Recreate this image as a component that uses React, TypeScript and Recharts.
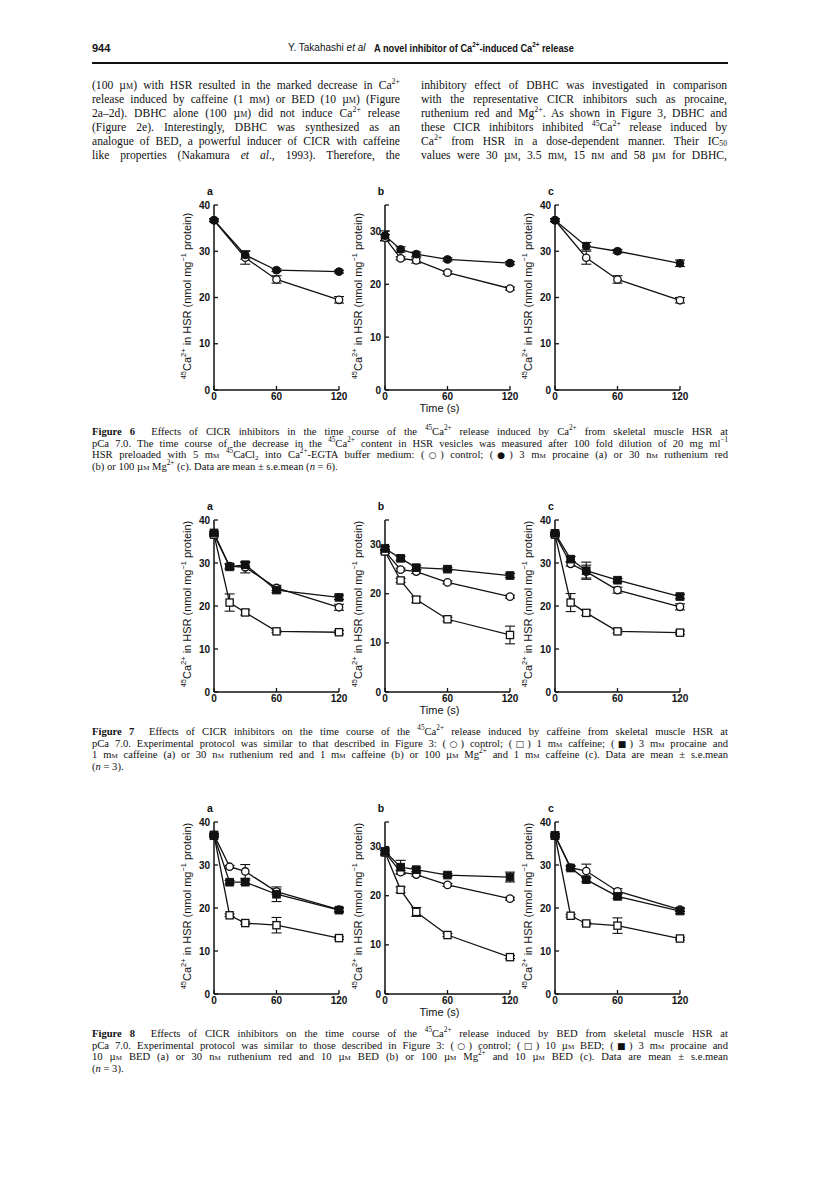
import React from "react";
import { LineChart, Line, XAxis, YAxis, ErrorBar } from "recharts";

// ---- data ----
const TIME_4 = [0, 30, 60, 120];
const TIME_5 = [0, 15, 30, 60, 120];
const X_TICKS = [0, 60, 120];
const Y_TICKS_40 = [0, 10, 20, 30, 40];
const Y_TICKS_35 = [0, 10, 20, 30, 35];
const PANEL_LETTERS = ["a", "b", "c"];
const PANEL_YMAX = [40, 35, 40];

// Figure 6: (O) control, (filled circle) procaine / ruthenium red / Mg2+
const FIG6_TIMES = [TIME_4, TIME_5, TIME_4];
const FIG6_CONTROL = [
  [36.7, 28.6, 23.9, 19.5],
  [28.8, 24.9, 24.5, 22.2, 19.2],
  [36.7, 28.6, 23.9, 19.4],
];
const FIG6_CONTROL_SEM = [
  [0.3, 1.4, 0.8, 0.7],
  [0.6, 0.3, 0.5, 0.3, 0.3],
  [0.3, 1.4, 0.8, 0.6],
];
const FIG6_INHIB = [
  [36.7, 29.2, 25.9, 25.6],
  [29.2, 26.6, 25.7, 24.7, 24.0],
  [36.7, 31.1, 30.0, 27.4],
];
const FIG6_INHIB_SEM = [
  [0.3, 0.9, 0.3, 0.3],
  [0.9, 0.5, 0.4, 0.3, 0.3],
  [0.3, 0.8, 0.4, 0.7],
];

// Figure 7: (O) control, (open square) caffeine, (filled square) inhibitor + caffeine
const FIG7_TIMES = [TIME_5, TIME_5, TIME_5];
const FIG7_CONTROL = [
  [36.6, 29.3, 29.0, 24.2, 19.7],
  [28.6, 24.9, 24.5, 22.3, 19.4],
  [36.6, 29.8, 28.0, 23.7, 19.8],
];
const FIG7_CONTROL_SEM = [
  [0.3, 0.5, 1.3, 0.6, 0.7],
  [0.4, 0.3, 0.4, 0.3, 0.3],
  [0.3, 0.5, 1.5, 0.7, 0.7],
];
const FIG7_DRUG = [
  [36.6, 20.8, 18.5, 14.1, 13.9],
  [28.6, 22.7, 18.8, 14.8, 11.6],
  [36.6, 20.8, 18.4, 14.1, 13.8],
];
const FIG7_DRUG_SEM = [
  [0.3, 2.0, 0.6, 0.3, 0.4],
  [0.4, 0.4, 0.6, 0.4, 1.8],
  [0.3, 2.1, 0.6, 0.4, 0.4],
];
const FIG7_INHIB = [
  [37.0, 29.1, 29.6, 23.7, 22.0],
  [29.2, 27.2, 25.3, 25.0, 23.7],
  [36.9, 30.9, 28.2, 26.0, 22.2],
];
const FIG7_INHIB_SEM = [
  [0.3, 0.6, 0.5, 0.6, 0.5],
  [0.4, 0.4, 0.4, 0.3, 0.4],
  [0.3, 0.6, 2.0, 0.4, 0.5],
];

// Figure 8: (O) control, (open square) BED, (filled square) inhibitor + BED
const FIG8_TIMES = [TIME_5, TIME_5, TIME_5];
const FIG8_CONTROL = [
  [37.0, 29.6, 28.5, 23.8, 19.6],
  [28.8, 24.8, 24.3, 22.2, 19.4],
  [36.9, 29.4, 28.6, 23.9, 19.6],
];
const FIG8_CONTROL_SEM = [
  [0.3, 0.3, 1.6, 0.6, 0.4],
  [0.4, 0.3, 0.3, 0.3, 0.3],
  [0.3, 0.3, 1.6, 0.6, 0.4],
];
const FIG8_DRUG = [
  [37.0, 18.3, 16.5, 16.0, 13.0],
  [28.8, 21.2, 16.7, 12.0, 7.5],
  [36.9, 18.2, 16.4, 15.9, 12.9],
];
const FIG8_DRUG_SEM = [
  [0.3, 0.3, 0.3, 1.8, 0.3],
  [0.4, 0.6, 0.9, 0.3, 0.3],
  [0.3, 0.3, 0.3, 1.8, 0.3],
];
const FIG8_INHIB = [
  [36.8, 26.0, 26.0, 23.2, 19.5],
  [29.0, 25.8, 25.3, 24.2, 23.8],
  [36.8, 29.3, 26.6, 22.7, 19.3],
];
const FIG8_INHIB_SEM = [
  [0.3, 0.4, 0.5, 1.7, 0.5],
  [0.7, 1.4, 0.4, 0.3, 1.0],
  [0.3, 0.5, 0.5, 0.5, 0.6],
];

// ---- layout ----
const INK = "#111";
const PANEL_X = [214, 385, 555];
const PW = 125;
const ML = 48;
const MT = 8;
const MR = 12;
const XH = 24;
const SANS = "'Liberation Sans', Arial, sans-serif";
const SERIF = "'Liberation Serif', 'Times New Roman', serif";
const AXIS = { stroke: INK, strokeWidth: 1.5 };
const TICK_FONT = { fontFamily: SANS, fontSize: 10, fontWeight: 700, fill: INK };

function XTick(props: any) {
  const { x, y, payload } = props;
  const base = y - 3;
  return (
    <g>
      <line x1={x} x2={x} y1={base} y2={base - 4} stroke={INK} strokeWidth={1.3} />
      <text x={x} y={y} dy="0.72em" textAnchor="middle" {...TICK_FONT}>
        {payload.value}
      </text>
    </g>
  );
}

function YTick(props: any) {
  const { x, y, payload } = props;
  const base = x + 4;
  return (
    <g>
      <line x1={base} x2={base + 4} y1={y} y2={y} stroke={INK} strokeWidth={1.3} />
      {payload.value !== 35 && (
        <text x={x} y={y} dy="0.35em" textAnchor="end" {...TICK_FONT}>
          {payload.value}
        </text>
      )}
    </g>
  );
}

const openCircle = (p: any) =>
  p.cx == null || p.cy == null ? <g key={`oc${p.index}`} /> : (
    <circle key={`oc${p.index}`} cx={p.cx} cy={p.cy} r={3.7} fill="#fff" stroke={INK} strokeWidth={1.3} />
  );
const filledCircle = (p: any) =>
  p.cx == null || p.cy == null ? <g key={`fc${p.index}`} /> : (
    <circle key={`fc${p.index}`} cx={p.cx} cy={p.cy} r={3.9} fill={INK} stroke={INK} strokeWidth={1} />
  );
const openSquare = (p: any) =>
  p.cx == null || p.cy == null ? <g key={`os${p.index}`} /> : (
    <rect key={`os${p.index}`} x={p.cx - 3.6} y={p.cy - 3.6} width={7.2} height={7.2} fill="#fff" stroke={INK} strokeWidth={1.3} />
  );
const filledSquare = (p: any) =>
  p.cx == null || p.cy == null ? <g key={`fs${p.index}`} /> : (
    <rect key={`fs${p.index}`} x={p.cx - 3.8} y={p.cy - 3.8} width={7.6} height={7.6} fill={INK} stroke={INK} strokeWidth={1} />
  );

const Sup = ({ children }: { children: React.ReactNode }) => (
  <span style={{ verticalAlign: "super", fontSize: "0.68em", lineHeight: 0 }}>{children}</span>
);
const Sub = ({ children }: { children: React.ReactNode }) => (
  <span style={{ position: "relative", top: "0.18em", fontSize: "0.66em", lineHeight: 0 }}>{children}</span>
);
const SC = ({ children }: { children: React.ReactNode }) => (
  <span style={{ fontVariant: "small-caps" }}>{children}</span>
);
const Sym = ({ children }: { children: React.ReactNode }) => (
  <span style={{ fontFamily: "'DejaVu Sans', sans-serif", fontSize: "0.85em" }}>{children}</span>
);

function YLabel() {
  return (
    <span>
      <Sup>45</Sup>Ca<Sup>2+</Sup> in HSR (nmol mg<Sup>−1</Sup> protein)
    </span>
  );
}

type PanelProps = {
  x: number;
  top: number;
  ph: number;
  idx: number;
  times: number[];
  control: number[];
  controlSem: number[];
  drug?: number[];
  drugSem?: number[];
  inhib: number[];
  inhibSem: number[];
  inhibDot: (p: any) => React.ReactElement;
};

function Panel({ x, top, ph, idx, times, control, controlSem, drug, drugSem, inhib, inhibSem, inhibDot }: PanelProps) {
  const yMax = PANEL_YMAX[idx];
  const rows = times.map((t, i) => ({
    t,
    control: control[i],
    controlSem: controlSem[i],
    drug: drug ? drug[i] : undefined,
    drugSem: drugSem ? drugSem[i] : undefined,
    inhib: inhib[i],
    inhibSem: inhibSem[i],
  }));
  return (
    <div style={{ position: "absolute", left: x - ML, top: top - MT, width: ML + PW + MR, height: MT + ph + XH }}>
      <LineChart width={ML + PW + MR} height={MT + ph + XH} data={rows} margin={{ top: MT, right: MR, bottom: 0, left: 0 }}>
        <XAxis
          dataKey="t"
          type="number"
          domain={[0, 120]}
          ticks={X_TICKS}
          interval={0}
          height={XH}
          tickSize={0}
          tickMargin={3}
          tick={<XTick />}
          axisLine={AXIS}
        />
        <YAxis
          type="number"
          domain={[0, yMax]}
          ticks={yMax === 40 ? Y_TICKS_40 : Y_TICKS_35}
          interval={0}
          width={ML}
          tickSize={0}
          tickMargin={4}
          tick={<YTick />}
          axisLine={AXIS}
        />
        <Line dataKey="control" stroke={INK} strokeWidth={1.3} dot={openCircle} activeDot={false} isAnimationActive={false}>
          <ErrorBar dataKey="controlSem" width={5} stroke={INK} strokeWidth={1.1} direction="y" />
        </Line>
        {drug && (
          <Line dataKey="drug" stroke={INK} strokeWidth={1.3} dot={openSquare} activeDot={false} isAnimationActive={false}>
            <ErrorBar dataKey="drugSem" width={5} stroke={INK} strokeWidth={1.1} direction="y" />
          </Line>
        )}
        <Line dataKey="inhib" stroke={INK} strokeWidth={1.3} dot={inhibDot} activeDot={false} isAnimationActive={false}>
          <ErrorBar dataKey="inhibSem" width={5} stroke={INK} strokeWidth={1.1} direction="y" />
        </Line>
      </LineChart>
      <div
        style={{
          position: "absolute",
          left: ML - 4,
          top: MT - 20,
          transform: "translateX(-50%)",
          fontFamily: SANS,
          fontWeight: 700,
          fontSize: 10.5,
          color: INK,
        }}
      >
        {PANEL_LETTERS[idx]}
      </div>
      <div
        style={{
          position: "absolute",
          left: ML - 27,
          top: MT + ph / 2 - 2,
          transform: "translate(-50%, -50%) rotate(-90deg)",
          whiteSpace: "nowrap",
          fontFamily: SANS,
          fontSize: 11,
          color: INK,
        }}
      >
        <YLabel />
      </div>
      {idx === 1 && (
        <div
          style={{
            position: "absolute",
            left: ML + PW / 2 - 8,
            top: MT + ph + 12,
            transform: "translateX(-50%)",
            whiteSpace: "nowrap",
            fontFamily: SANS,
            fontSize: 11,
            color: INK,
          }}
        >
          Time (s)
        </div>
      )}
    </div>
  );
}

function Figure({
  top,
  ph,
  times,
  control,
  controlSem,
  drug,
  drugSem,
  inhib,
  inhibSem,
  inhibDot,
}: {
  top: number;
  ph: number;
  times: number[][];
  control: number[][];
  controlSem: number[][];
  drug?: number[][];
  drugSem?: number[][];
  inhib: number[][];
  inhibSem: number[][];
  inhibDot: (p: any) => React.ReactElement;
}) {
  return (
    <>
      {PANEL_X.map((x, i) => (
        <Panel
          key={i}
          x={x}
          top={top}
          ph={ph}
          idx={i}
          times={times[i]}
          control={control[i]}
          controlSem={controlSem[i]}
          drug={drug ? drug[i] : undefined}
          drugSem={drugSem ? drugSem[i] : undefined}
          inhib={inhib[i]}
          inhibSem={inhibSem[i]}
          inhibDot={inhibDot}
        />
      ))}
    </>
  );
}

function Lines({
  left,
  top,
  width,
  lineHeight,
  fontSize,
  lines,
  lastJustified,
}: {
  left: number;
  top: number;
  width: number;
  lineHeight: number;
  fontSize: number;
  lines: React.ReactNode[];
  lastJustified: boolean;
}) {
  return (
    <div style={{ position: "absolute", left, top, width, fontFamily: SERIF, fontSize, lineHeight: `${lineHeight}px`, color: INK }}>
      {lines.map((l, i) => {
        const justify = lastJustified || i < lines.length - 1;
        return (
          <div
            key={i}
            style={{
              height: lineHeight,
              whiteSpace: "nowrap",
              textAlign: justify ? "justify" : "left",
              textAlignLast: justify ? "justify" : "left",
            }}
          >
            {l}
          </div>
        );
      })}
    </div>
  );
}

const BODY_LEFT = [
  <>(100 µ<SC>m</SC>) with HSR resulted in the marked decrease in Ca<Sup>2+</Sup></>,
  <>release induced by caffeine (1 m<SC>m</SC>) or BED (10 µ<SC>m</SC>) (Figure</>,
  <>2a–2d). DBHC alone (100 µ<SC>m</SC>) did not induce Ca<Sup>2+</Sup> release</>,
  <>(Figure 2e). Interestingly, DBHC was synthesized as an</>,
  <>analogue of BED, a powerful inducer of CICR with caffeine</>,
  <>like properties (Nakamura <i>et al</i>., 1993). Therefore, the</>,
];

const BODY_RIGHT = [
  <>inhibitory effect of DBHC was investigated in comparison</>,
  <>with the representative CICR inhibitors such as procaine,</>,
  <>ruthenium red and Mg<Sup>2+</Sup>. As shown in Figure 3, DBHC and</>,
  <>these CICR inhibitors inhibited <Sup>45</Sup>Ca<Sup>2+</Sup> release induced by</>,
  <>Ca<Sup>2+</Sup> from HSR in a dose-dependent manner. Their IC<Sub>50</Sub></>,
  <>values were 30 µ<SC>m</SC>, 3.5 m<SC>m</SC>, 15 n<SC>m</SC> and 58 µ<SC>m</SC> for DBHC,</>,
];

const CAPTION_6 = [
  <><b>Figure 6</b>&nbsp; Effects of CICR inhibitors in the time course of the <Sup>45</Sup>Ca<Sup>2+</Sup> release induced by Ca<Sup>2+</Sup> from skeletal muscle HSR at</>,
  <>pCa 7.0. The time course of the decrease in the <Sup>45</Sup>Ca<Sup>2+</Sup> content in HSR vesicles was measured after 100 fold dilution of 20 mg ml<Sup>−1</Sup></>,
  <>HSR preloaded with 5 m<SC>m</SC> <Sup>45</Sup>CaCl<Sub>2</Sub> into Ca<Sup>2+</Sup>-EGTA buffer medium: (<Sym>○</Sym>) control; (<Sym>●</Sym>) 3 m<SC>m</SC> procaine (a) or 30 n<SC>m</SC> ruthenium red</>,
  <>(b) or 100 µ<SC>m</SC> Mg<Sup>2+</Sup> (c). Data are mean ± s.e.mean (<i>n</i> = 6).</>,
];

const CAPTION_7 = [
  <><b>Figure 7</b>&nbsp; Effects of CICR inhibitors on the time course of the <Sup>45</Sup>Ca<Sup>2+</Sup> release induced by caffeine from skeletal muscle HSR at</>,
  <>pCa 7.0. Experimental protocol was similar to that described in Figure 3: (<Sym>○</Sym>) control; (<Sym>□</Sym>) 1 m<SC>m</SC> caffeine; (<Sym>■</Sym>) 3 m<SC>m</SC> procaine and</>,
  <>1 m<SC>m</SC> caffeine (a) or 30 n<SC>m</SC> ruthenium red and 1 m<SC>m</SC> caffeine (b) or 100 µ<SC>m</SC> Mg<Sup>2+</Sup> and 1 m<SC>m</SC> caffeine (c). Data are mean ± s.e.mean</>,
  <>(<i>n</i> = 3).</>,
];

const CAPTION_8 = [
  <><b>Figure 8</b>&nbsp; Effects of CICR inhibitors on the time course of the <Sup>45</Sup>Ca<Sup>2+</Sup> release induced by BED from skeletal muscle HSR at</>,
  <>pCa 7.0. Experimental protocol was similar to those described in Figure 3: (<Sym>○</Sym>) control; (<Sym>□</Sym>) 10 µ<SC>m</SC> BED; (<Sym>■</Sym>) 3 m<SC>m</SC> procaine and</>,
  <>10 µ<SC>m</SC> BED (a) or 30 n<SC>m</SC> ruthenium red and 10 µ<SC>m</SC> BED (b) or 100 µ<SC>m</SC> Mg<Sup>2+</Sup> and 10 µ<SC>m</SC> BED (c). Data are mean ± s.e.mean</>,
  <>(<i>n</i> = 3).</>,
];

export default function App() {
  return (
    <div style={{ position: "absolute", left: 0, top: 0, width: 816, height: 1187, background: "#fff", overflow: "hidden" }}>
      {/* running head */}
      <div style={{ position: "absolute", left: 92, top: 42, fontFamily: SANS, fontWeight: 700, fontSize: 11, color: INK }}>944</div>
      <div style={{ position: "absolute", left: 288, top: 42, fontFamily: SANS, fontSize: 10, color: INK }}>
        Y. Takahashi <i>et al</i>
      </div>
      <div
        style={{
          position: "absolute",
          left: 374,
          top: 42,
          fontFamily: SANS,
          fontWeight: 700,
          fontSize: 11,
          color: INK,
          whiteSpace: "nowrap",
          transform: "scaleX(0.84)",
          transformOrigin: "left center",
        }}
      >
        A novel inhibitor of Ca<Sup>2+</Sup>-induced Ca<Sup>2+</Sup> release
      </div>
      <div style={{ position: "absolute", left: 92, top: 62, width: 636, height: 1.5, background: INK }} />

      <Lines left={92} top={79} width={308} lineHeight={14} fontSize={11.6} lines={BODY_LEFT} lastJustified />
      <Lines left={421} top={79} width={306} lineHeight={14} fontSize={11.6} lines={BODY_RIGHT} lastJustified />

      <Figure
        top={205}
        ph={185}
        times={FIG6_TIMES}
        control={FIG6_CONTROL}
        controlSem={FIG6_CONTROL_SEM}
        inhib={FIG6_INHIB}
        inhibSem={FIG6_INHIB_SEM}
        inhibDot={filledCircle}
      />
      <Lines left={92} top={426} width={636} lineHeight={11.7} fontSize={10.6} lines={CAPTION_6} lastJustified={false} />

      <Figure
        top={520}
        ph={172}
        times={FIG7_TIMES}
        control={FIG7_CONTROL}
        controlSem={FIG7_CONTROL_SEM}
        drug={FIG7_DRUG}
        drugSem={FIG7_DRUG_SEM}
        inhib={FIG7_INHIB}
        inhibSem={FIG7_INHIB_SEM}
        inhibDot={filledSquare}
      />
      <Lines left={92} top={726} width={636} lineHeight={11.7} fontSize={10.6} lines={CAPTION_7} lastJustified={false} />

      <Figure
        top={822}
        ph={172}
        times={FIG8_TIMES}
        control={FIG8_CONTROL}
        controlSem={FIG8_CONTROL_SEM}
        drug={FIG8_DRUG}
        drugSem={FIG8_DRUG_SEM}
        inhib={FIG8_INHIB}
        inhibSem={FIG8_INHIB_SEM}
        inhibDot={filledSquare}
      />
      <Lines left={92} top={1028} width={636} lineHeight={11.7} fontSize={10.6} lines={CAPTION_8} lastJustified={false} />
    </div>
  );
}
